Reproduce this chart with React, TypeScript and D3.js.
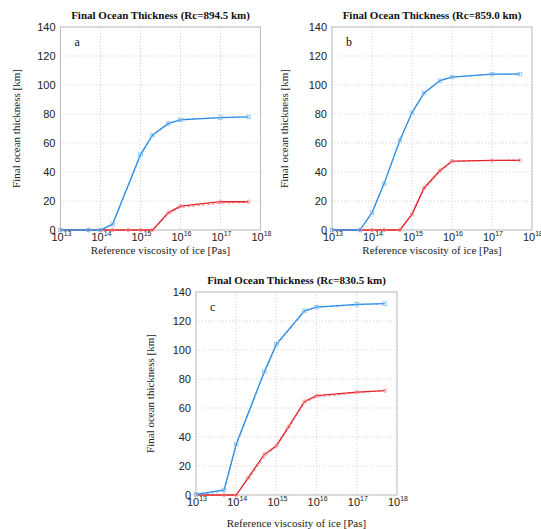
import React from 'react';
import * as d3 from 'd3';

// Reference viscosity of ice [Pas] (sample points)
const viscosity = [1e13, 5e13, 1e14, 2e14, 5e14, 1e15, 2e15, 5e15, 1e16, 1e17, 5e17];
const yTicks = [0, 20, 40, 60, 80, 100, 120, 140];
const xTickExponents = [13, 14, 15, 16, 17, 18];

const titles = [
  'Final Ocean Thickness (Rc=894.5 km)',
  'Final Ocean Thickness (Rc=859.0 km)',
  'Final Ocean Thickness (Rc=830.5 km)',
];
const panelLetters = ['a', 'b', 'c'];
const yLabels = ['Final ocean thickness [km]', 'Final ocean thickness [km]', 'Final ocean thickness [km]'];
const xLabel = 'Reference viscosity of ice [Pas]';

// Panel a
const blueA = [0, 0, 0, 4, null, 52, 65.5, 73.5, 76, 77.5, 78];
const blueDashA = [0, 0, 0, 3.5, null, 51, 65, 73, 76.5, 77.5, 78];
const redA = [0, 0, 0, 0, 0, 0, 0, 12, 16.5, 19.5, 19.5];
const redDashA = [0, 0, 0, 0, 0, 0, 0, 11, 15.5, 18.5, 19];
// Panel b
const blueB = [0, 0, 12, 32, 62, 81, 94.5, 103, 105.5, 107.5, 107.5];
const blueDashB = [0, 0, 11.5, 31.5, 61.5, 80.5, 94, 103, 105.5, 107.5, 108];
const redB = [0, 0, 0, 0, 0, 11, 29, 41, 47.5, 48, 48];
const redDashB = [0, 0, 0, 0, 0, 10.5, 28, 40, 47, 48, 48.5];
// Panel c
const blueC = [0.5, 3.5, 35, null, 85, 104, null, 127, 129.5, 131.5, 132];
const blueDashC = [0, 2.5, 34, null, 84, 103, null, 126.5, 129.5, 131, 132];
const redC = [0, 0, 0, 12, 28, 34, 47, 64.5, 68.5, 71, 72];
const redDashC = [0, 0, 0, 11, 26, 33.5, 46, 63.5, 67.5, 70.5, 72];

const panelsData = [
  { blue: blueA, blueDash: blueDashA, red: redA, redDash: redDashA },
  { blue: blueB, blueDash: blueDashB, red: redB, redDash: redDashB },
  { blue: blueC, blueDash: blueDashC, red: redC, redDash: redDashC },
];

const layout = [
  { left: 60.5, top: 27, w: 200, h: 203, yLabelX: -41, xLabelDy: 24 },
  { left: 332, top: 27, w: 200, h: 203, yLabelX: -44, xLabelDy: 24 },
  { left: 196, top: 292, w: 201, h: 203, yLabelX: -42, xLabelDy: 32 },
];

const BLUE = '#2b8de4';
const BLUE_L = '#86bff0';
const RED = '#e6242c';
const RED_L = '#f29096';
const SERIF = '"Liberation Serif", "Times New Roman", serif';
const SANS = '"Liberation Sans", Arial, sans-serif';

function Panel({ idx }: { idx: number }) {
  const L = layout[idx];
  const D = panelsData[idx];
  const x = d3.scaleLog().domain([1e13, 1e18]).range([0, L.w]);
  const y = d3.scaleLinear().domain([0, 140]).range([L.h, 0]);

  const pts = (arr: (number | null)[]) =>
    arr
      .map((v, i) => (v === null ? null : ([x(viscosity[i]), y(v)] as [number, number])))
      .filter((p) => p !== null) as [number, number][];
  const line = d3.line<[number, number]>();

  return (
    <g transform={`translate(${L.left},${L.top})`}>
      {/* grid */}
      {yTicks.map((t) => (
        <line key={'gy' + t} x1={0} x2={L.w} y1={y(t)} y2={y(t)} stroke="#c8c8c8" strokeWidth={0.8} strokeDasharray="1,2" />
      ))}
      {xTickExponents.map((e) => (
        <line key={'gx' + e} x1={x(Math.pow(10, e))} x2={x(Math.pow(10, e))} y1={0} y2={L.h} stroke="#c8c8c8" strokeWidth={0.8} strokeDasharray="1,2" />
      ))}
      <rect x={0} y={0} width={L.w} height={L.h} fill="none" stroke="#b0b0b0" strokeWidth={0.8} />
      {/* series */}
      <path d={line(pts(D.redDash)) || ''} fill="none" stroke={RED_L} strokeWidth={1} strokeDasharray="3,2" />
      <path d={line(pts(D.red)) || ''} fill="none" stroke={RED} strokeWidth={1.3} />
      {pts(D.red).map((p, i) => (
        <circle key={'rc' + i} cx={p[0]} cy={p[1]} r={1.8} fill="none" stroke={RED_L} strokeWidth={0.8} />
      ))}
      <path d={line(pts(D.blueDash)) || ''} fill="none" stroke={BLUE_L} strokeWidth={1} strokeDasharray="3,2" />
      <path d={line(pts(D.blue)) || ''} fill="none" stroke={BLUE} strokeWidth={1.3} />
      {pts(D.blue).map((p, i) => (
        <rect key={'bs' + i} x={p[0] - 1.8} y={p[1] - 1.8} width={3.6} height={3.6} fill="none" stroke={BLUE_L} strokeWidth={0.8} />
      ))}
      {/* y ticks */}
      {yTicks.map((t) => (
        <text key={'ty' + t} x={-5} y={y(t) + 4} textAnchor="end" fontFamily={SANS} fontSize={11} fill="#222">
          {t}
        </text>
      ))}
      {/* x ticks */}
      {xTickExponents.map((e) => (
        <text key={'tx' + e} x={x(Math.pow(10, e)) + 1} y={L.h + 11} textAnchor="middle" fontFamily={SANS} fontSize={11} fill="#222">
          10
          <tspan fontSize={7} dy={-5}>
            {e}
          </tspan>
        </text>
      ))}
      {/* title */}
      <text x={L.w / 2} y={-8} textAnchor="middle" fontFamily={SERIF} fontWeight="bold" fontSize={11} fill="#111">
        {titles[idx]}
      </text>
      {/* panel letter */}
      <text x={14} y={19} fontFamily={SERIF} fontSize={12} fill="#111">
        {panelLetters[idx]}
      </text>
      {/* axis labels */}
      <text x={L.w / 2} y={L.h + L.xLabelDy} textAnchor="middle" fontFamily={SERIF} fontSize={11} fill="#222">
        {xLabel}
      </text>
      <text
        transform={`translate(${L.yLabelX},${L.h / 2}) rotate(-90)`}
        textAnchor="middle"
        fontFamily={SERIF}
        fontSize={11}
        fill="#222"
      >
        {yLabels[idx]}
      </text>
    </g>
  );
}

export default function App() {
  return (
    <svg
      width={541}
      height={529}
      style={{ position: 'absolute', left: 0, top: 0, background: '#fff' }}
    >
      <rect width={541} height={529} fill="#fff" />
      <Panel idx={0} />
      <Panel idx={1} />
      <Panel idx={2} />
    </svg>
  );
}
